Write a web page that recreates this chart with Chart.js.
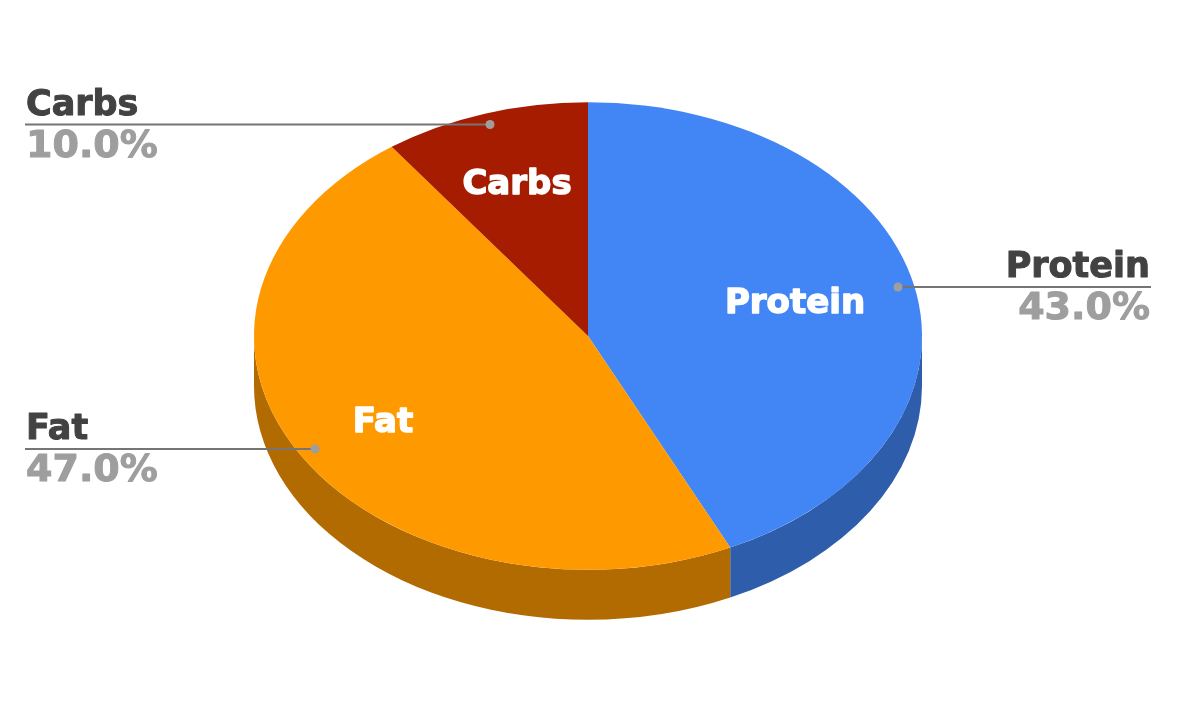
<!DOCTYPE html>
<html>
<head>
<meta charset="utf-8">
<style>html,body{margin:0;padding:0;background:#fff}#wrap{width:1178px;height:714px}</style>
<script src="https://cdn.jsdelivr.net/npm/chart.js@4"></script>
</head>
<body>
<div id="wrap"><canvas id="c" width="1178" height="714"></canvas></div>
<script>
const categories = ['Protein', 'Fat', 'Carbs'];
const shares = [43.0, 47.0, 10.0];
const topColors = ['#4285f4', '#ff9900', '#a61c00'];
const sideColors = ['#2e5dab', '#b26b00', '#741400'];
const percentLabels = ['43.0%', '47.0%', '10.0%'];

const CX = 588, CY = 336, SQUASH = 0.7, DEPTH = 50;
const tilt = {
  id: 'tilt',
  beforeDatasetsDraw(chart){
    const ctx = chart.ctx, arcs = chart.getDatasetMeta(0).data;
    const cx = arcs[0].x, cy = arcs[0].y;
    // side wall of every slice facing the viewer, from the library's own arc geometry
    arcs.forEach((a, i) => {
      const from = Math.max(a.startAngle, 0), to = Math.min(a.endAngle, Math.PI);
      if (to <= from) return;
      const r = a.outerRadius;
      ctx.beginPath();
      ctx.ellipse(CX, CY, r, r * SQUASH, 0, from, to);
      ctx.ellipse(CX, CY + DEPTH, r, r * SQUASH, 0, to, from, true);
      ctx.closePath();
      ctx.fillStyle = sideColors[i];
      ctx.fill();
    });
    ctx.save();
    ctx.translate(CX, CY);
    ctx.scale(1, SQUASH);
    ctx.translate(-cx, -cy);
  },
  afterDatasetsDraw(chart){
    chart.ctx.restore();
    const ctx = chart.ctx;
    const bold = s => `bold ${s}px "DejaVu Sans"`;
    ctx.textBaseline = 'alphabetic';
    ctx.lineJoin = 'round';
    const put = (t, x, y, size, color, stroke) => {
      ctx.font = bold(size); ctx.fillStyle = color; ctx.strokeStyle = color; ctx.lineWidth = stroke;
      ctx.strokeText(t, x, y); ctx.fillText(t, x, y);
    };
    // inside labels
    const inside = [[795, 313], [383, 432], [517, 194]];
    ctx.textAlign = 'center';
    categories.forEach((t, i) => put(t, inside[i][0], inside[i][1], 34, '#ffffff', 1.4));
    // leader lines
    const leaders = [[898, 287, 1151, 287], [315, 449, 25, 449], [490, 124.5, 25, 124.5]];
    leaders.forEach(l => {
      ctx.strokeStyle = '#757575'; ctx.lineWidth = 2;
      ctx.beginPath(); ctx.moveTo(l[0], l[1]); ctx.lineTo(l[2], l[3]); ctx.stroke();
      ctx.fillStyle = '#9e9e9e';
      ctx.beginPath(); ctx.arc(l[0], l[1], 4.5, 0, Math.PI * 2); ctx.fill();
    });
    // outside labels
    const out = [[1150, 'right', 277, 319], [26, 'left', 439, 481], [26, 'left', 115, 157]];
    out.forEach((p, i) => {
      ctx.textAlign = p[1];
      put(categories[i], p[0], p[2], 35, '#424242', 1);
      put(percentLabels[i], p[0], p[3], 38, '#9e9e9e', 1);
    });
  }
};
new Chart(document.getElementById('c'), {
  type: 'pie',
  data: { labels: categories, datasets: [{ data: shares, backgroundColor: topColors, borderWidth: 0 }] },
  options: {
    responsive: false, animation: false,
    layout: { padding: { top: 23, bottom: 23, left: 0, right: 0 } },
    plugins: { legend: { display: false }, tooltip: { enabled: false }, title: { display: false } }
  },
  plugins: [tilt]
});
</script>
</body>
</html>
